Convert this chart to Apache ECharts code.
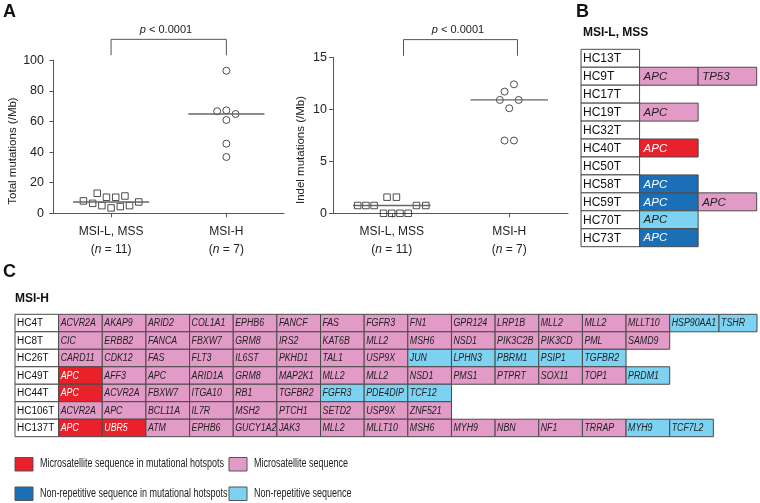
<!DOCTYPE html>
<html><head><meta charset="utf-8">
<script src="https://cdn.jsdelivr.net/npm/echarts@6/dist/echarts.min.js"></script>
<style>html,body{margin:0;padding:0;background:#fff}#c{width:760px;height:503px}</style>
</head><body><div id="c"></div>
<script>
// ---------- Panel A data ----------
const groupsA = ['MSI-L, MSS', 'MSI-H'];
const groupN = [11, 7];
const totalTicks = [0, 20, 40, 60, 80, 100];
const indelTicks = [0, 5, 10, 15];
const totalMSS = [8.1, 6.5, 13.1, 5.0, 10.5, 3.5, 10.5, 4.4, 11.3, 5.0, 7.4];
const totalMSSJitter = [-0.24, -0.16, -0.12, -0.08, -0.04, 0, 0.04, 0.08, 0.12, 0.16, 0.24];
const totalMSIH = [93.2, 66.7, 67.3, 64.9, 61.0, 45.5, 36.8];
const totalMSIHJitter = [0, -0.08, 0, 0.08, 0, 0, 0];
const totalMedians = [7.4, 64.9];
const indelMSS = [0.75, 0.75, 0.75, 1.55, 1.55, 0, 0, 0, 0, 0.75, 0.75];
const indelMSSJitter = [-0.29, -0.22, -0.15, -0.04, 0.04, -0.07, 0, 0.07, 0.14, 0.21, 0.29];
const indelMSIH = [12.4, 11.7, 10.9, 10.9, 10.1, 7.0, 7.0];
const indelMSIHJitter = [0.04, -0.04, -0.08, 0.08, 0, -0.04, 0.04];
const indelMedians = [0.75, 10.9];
const pValueText = 'p < 0.0001';

// ---------- Panel B data ----------
const samplesB = ['HC13T','HC9T','HC17T','HC19T','HC32T','HC40T','HC50T','HC58T','HC59T','HC70T','HC73T'];
const genesB = [[], ['APC','TP53'], [], ['APC'], [], ['APC'], [], ['APC'], ['APC','APC'], ['APC'], ['APC']];
const typesB = ['', 'PP', '', 'P', '', 'R', '', 'D', 'DP', 'L', 'D'];

// ---------- Panel C data ----------
const samplesC = ['HC4T','HC8T','HC26T','HC49T','HC44T','HC106T','HC137T'];
const genesC = [
  ['ACVR2A','AKAP9','ARID2','COL1A1','EPHB6','FANCF','FAS','FGFR3','FN1','GPR124','LRP1B','MLL2','MLL2','MLLT10','HSP90AA1','TSHR'],
  ['CIC','ERBB2','FANCA','FBXW7','GRM8','IRS2','KAT6B','MLL2','MSH6','NSD1','PIK3C2B','PIK3CD','PML','SAMD9'],
  ['CARD11','CDK12','FAS','FLT3','IL6ST','PKHD1','TAL1','USP9X','JUN','LPHN3','PBRM1','PSIP1','TGFBR2'],
  ['APC','AFF3','APC','ARID1A','GRM8','MAP2K1','MLL2','MLL2','NSD1','PMS1','PTPRT','SOX11','TOP1','PRDM1'],
  ['APC','ACVR2A','FBXW7','ITGA10','RB1','TGFBR2','FGFR3','PDE4DIP','TCF12'],
  ['ACVR2A','APC','BCL11A','IL7R','MSH2','PTCH1','SETD2','USP9X','ZNF521'],
  ['APC','UBR5','ATM','EPHB6','GUCY1A2','JAK3','MLL2','MLLT10','MSH6','MYH9','NBN','NF1','TRRAP','MYH9','TCF7L2']
];
const typesC = [
  'PPPPPPPPPPPPPPLL',
  'PPPPPPPPPPPPPP',
  'PPPPPPPPLLLLL',
  'RPPPPPPPPPPPPL',
  'RPPPPPLLL',
  'PPPPPPPPP',
  'RRPPPPPPPPPPPLL'
];
const legendTypes = ['R', 'P', 'D', 'L'];
const legendNames = ['Microsatellite sequence in mutational hotspots', 'Microsatellite sequence',
  'Non-repetitive sequence in mutational hotspots', 'Non-repetitive sequence'];

// ---------- layout / styling ----------
const FONT = "'Liberation Sans', Arial, sans-serif";
const typeFill = { R: '#E8212B', P: '#E29AC6', D: '#1B6FB6', L: '#7DD2F1', N: '#FFFFFF' };
const typeText = { R: '#FFFFFF', P: '#222222', D: '#FFFFFF', L: '#222222', N: '#111111' };
const CELL_BORDER = '#4a4a4a';
const AXIS_COL = '#555';
// cell width overrides (column units) for table C, keyed "row,col"
const widthOverridesC = { '0,15': 1.13, '0,16': 0.87 };

function buildCells(samples, genes, types, overrides) {
  const cells = [];
  samples.forEach((s, r) => {
    let x = 0;
    const push = (col, text, type) => {
      const w = (overrides && overrides[r + ',' + col]) || 1;
      cells.push({ x0: x, x1: x + w, row: r, text: text, type: type });
      x += w;
    };
    push(0, s, 'N');
    genes[r].forEach((g, j) => push(j + 1, g, types[r][j]));
  });
  return cells;
}
const cellsB = buildCells(samplesB, genesB, typesB, null);
const cellsC = buildCells(samplesC, genesC, typesC, widthOverridesC);

function tableSeries(cells, xi, fontSize, nameSize, pad, sx) {
  return {
    type: 'custom', coordinateSystem: 'cartesian2d', xAxisIndex: xi, yAxisIndex: xi, silent: true,
    data: cells.map(c => [c.x0, c.row, c.x1]),
    renderItem: function (params, api) {
      const c = cells[params.dataIndex];
      const p0 = api.coord([api.value(0), api.value(1)]);
      const p1 = api.coord([api.value(2), api.value(1) + 1]);
      const isName = c.type === 'N';
      return {
        type: 'group', children: [
          { type: 'rect', shape: { x: p0[0], y: p0[1], width: p1[0] - p0[0], height: p1[1] - p0[1] },
            style: { fill: typeFill[c.type], stroke: CELL_BORDER, lineWidth: 1 } },
          { type: 'text', x: p0[0] + (isName ? 2 : pad), y: (p0[1] + p1[1]) / 2 + 0.5, scaleX: isName ? 1 : sx,
            style: { x: 0, y: 0, text: c.text,
            fill: typeText[c.type], verticalAlign: 'middle', align: 'left',
            font: (isName ? '' : 'italic ') + (isName ? nameSize : fontSize) + 'px ' + FONT } }
        ]
      };
    }
  };
}

function scatterPts(vals, jit, pos) { return vals.map((v, i) => [pos + jit[i], v]); }
function medianLine(pos, v) { return [[pos - 0.33, v], [pos + 0.33, v]]; }
const catPos = [0.5, 1.5];

function xAxisA(gi, min) {
  return {
    type: 'value', gridIndex: gi, min: min, max: 2,
    axisLine: { show: true, onZero: false, lineStyle: { color: AXIS_COL, width: 1 } },
    splitLine: { show: false },
    axisTick: { show: true, length: 4, customValues: catPos, lineStyle: { color: AXIS_COL } },
    axisLabel: {
      customValues: catPos, margin: 9, color: '#222',
      formatter: function (v) {
        const i = Math.round(v - 0.5);
        return '{a|' + groupsA[i] + '}\n{a|(}{i|n}{a| = ' + groupN[i] + ')}';
      },
      rich: {
        a: { fontSize: 12, lineHeight: 18, fontFamily: FONT, color: '#222' },
        i: { fontSize: 12, lineHeight: 18, fontFamily: FONT, fontStyle: 'italic', color: '#222' }
      }
    }
  };
}
function yAxisA(gi, ticks) {
  return {
    type: 'value', gridIndex: gi, min: ticks[0], max: ticks[ticks.length - 1], interval: ticks[1] - ticks[0],
    axisLine: { show: true, lineStyle: { color: AXIS_COL, width: 1 } },
    axisTick: { show: true, length: 4, lineStyle: { color: AXIS_COL } },
    splitLine: { show: false },
    axisLabel: { margin: 6, fontSize: 12.5, fontFamily: FONT, color: '#222' }
  };
}
const hidden = (gi, min, max, inv) => ({ type: 'value', gridIndex: gi, min: min, max: max, inverse: !!inv, show: false,
  axisLine: { show: false }, axisTick: { show: false }, axisLabel: { show: false }, splitLine: { show: false } });

const lineStyleMed = { color: '#666', width: 1.3 };
const bracketStyle = { color: '#555', width: 1 };
const symStyle = { color: 'rgba(0,0,0,0)', borderColor: '#222', borderWidth: 1 };

const series = [
  // total mutations
  { type: 'line', xAxisIndex: 0, yAxisIndex: 0, data: medianLine(catPos[0], totalMedians[0]), showSymbol: false, lineStyle: lineStyleMed, silent: true },
  { type: 'line', xAxisIndex: 0, yAxisIndex: 0, data: medianLine(catPos[1], totalMedians[1]), showSymbol: false, lineStyle: lineStyleMed, silent: true },
  { type: 'scatter', xAxisIndex: 0, yAxisIndex: 0, symbol: 'rect', symbolSize: 6.5, itemStyle: symStyle, data: scatterPts(totalMSS, totalMSSJitter, catPos[0]) },
  { type: 'scatter', xAxisIndex: 0, yAxisIndex: 0, symbol: 'circle', symbolSize: 7, itemStyle: symStyle, data: scatterPts(totalMSIH, totalMSIHJitter, catPos[1]) },
  { type: 'line', xAxisIndex: 0, yAxisIndex: 0, clip: false, showSymbol: false, lineStyle: bracketStyle, silent: true,
    data: [[0.5, 103.3], [0.5, 113.7], [1.5, 113.7], [1.5, 103.3]] },
  // indel mutations
  { type: 'line', xAxisIndex: 1, yAxisIndex: 1, data: medianLine(catPos[0], indelMedians[0]), showSymbol: false, lineStyle: lineStyleMed, silent: true },
  { type: 'line', xAxisIndex: 1, yAxisIndex: 1, data: medianLine(catPos[1], indelMedians[1]), showSymbol: false, lineStyle: lineStyleMed, silent: true },
  { type: 'scatter', xAxisIndex: 1, yAxisIndex: 1, symbol: 'rect', symbolSize: 6.5, itemStyle: symStyle, clip: false, data: scatterPts(indelMSS, indelMSSJitter, catPos[0]) },
  { type: 'scatter', xAxisIndex: 1, yAxisIndex: 1, symbol: 'circle', symbolSize: 7, itemStyle: symStyle, data: scatterPts(indelMSIH, indelMSIHJitter, catPos[1]) },
  { type: 'line', xAxisIndex: 1, yAxisIndex: 1, clip: false, showSymbol: false, lineStyle: bracketStyle, silent: true,
    data: [[0.6, 15.15], [0.6, 16.7], [1.57, 16.7], [1.57, 15.15]] },
  // tables
  tableSeries(cellsB, 2, 11.5, 12, 4, 1),
  tableSeries(cellsC, 3, 10, 10, 2, 0.88)
];

const graphics = [
  { type: 'text', x: 3, y: 12, style: { text: 'A', font: 'bold 18px ' + FONT, fill: '#111', verticalAlign: 'middle' } },
  { type: 'text', x: 576, y: 12, style: { text: 'B', font: 'bold 18px ' + FONT, fill: '#111', verticalAlign: 'middle' } },
  { type: 'text', x: 3, y: 272, style: { text: 'C', font: 'bold 18px ' + FONT, fill: '#111', verticalAlign: 'middle' } },
  { type: 'text', x: 583, y: 33, style: { text: 'MSI-L, MSS', font: 'bold 12px ' + FONT, fill: '#111', verticalAlign: 'middle' } },
  { type: 'text', x: 15, y: 299, style: { text: 'MSI-H', font: 'bold 12px ' + FONT, fill: '#111', verticalAlign: 'middle' } },
  { type: 'text', x: 13, y: 151, rotation: Math.PI / 2, style: { text: 'Total mutations (/Mb)', font: '11.5px ' + FONT, fill: '#222', align: 'center', verticalAlign: 'middle' } },
  { type: 'text', x: 301, y: 150, rotation: Math.PI / 2, style: { text: 'Indel mutations (/Mb)', font: '11.5px ' + FONT, fill: '#222', align: 'center', verticalAlign: 'middle' } },
  { type: 'text', x: 166, y: 30, style: { text: '{i|p}' + pValueText.slice(1), font: '11px ' + FONT, fill: '#222', align: 'center', verticalAlign: 'middle',
      rich: { i: { fontStyle: 'italic', fontSize: 11, fontFamily: FONT } } } },
  { type: 'text', x: 458, y: 30, style: { text: '{i|p}' + pValueText.slice(1), font: '11px ' + FONT, fill: '#222', align: 'center', verticalAlign: 'middle',
      rich: { i: { fontStyle: 'italic', fontSize: 11, fontFamily: FONT } } } }
];
// legend
const legendPos = [[15, 464], [229, 464], [15, 493.5], [229, 493.5]];
legendTypes.forEach((t, i) => {
  const p = legendPos[i];
  graphics.push({ type: 'rect', shape: { x: p[0], y: p[1] - 6.5, width: 18, height: 13.5 }, style: { fill: typeFill[t], stroke: '#555', lineWidth: 1 } });
  graphics.push({ type: 'text', x: p[0] + 25, y: p[1], scaleX: 0.72, style: { text: legendNames[i], x: 0, y: 0, font: '12.5px ' + FONT, fill: '#222', verticalAlign: 'middle' } });
});

const option = {
  animation: false,
  backgroundColor: '#fff',
  grid: [
    { left: 50, top: 60.3, width: 234, height: 153 },
    { left: 333, top: 57.3, width: 235, height: 156 },
    { left: 581, top: 49.3, width: 175.7, height: 197.4 },
    { left: 15, top: 314.3, width: 742, height: 122.4 }
  ],
  xAxis: [xAxisA(0, -0.03), xAxisA(1, 0), hidden(2, 0, 3), hidden(3, 0, 17)],
  yAxis: [yAxisA(0, totalTicks), yAxisA(1, indelTicks), hidden(2, 0, 11, true), hidden(3, 0, 7, true)],
  series: series,
  graphic: graphics
};
const chart = echarts.init(document.getElementById('c'), null, { renderer: 'canvas' });
chart.setOption(option);
</script></body></html>
